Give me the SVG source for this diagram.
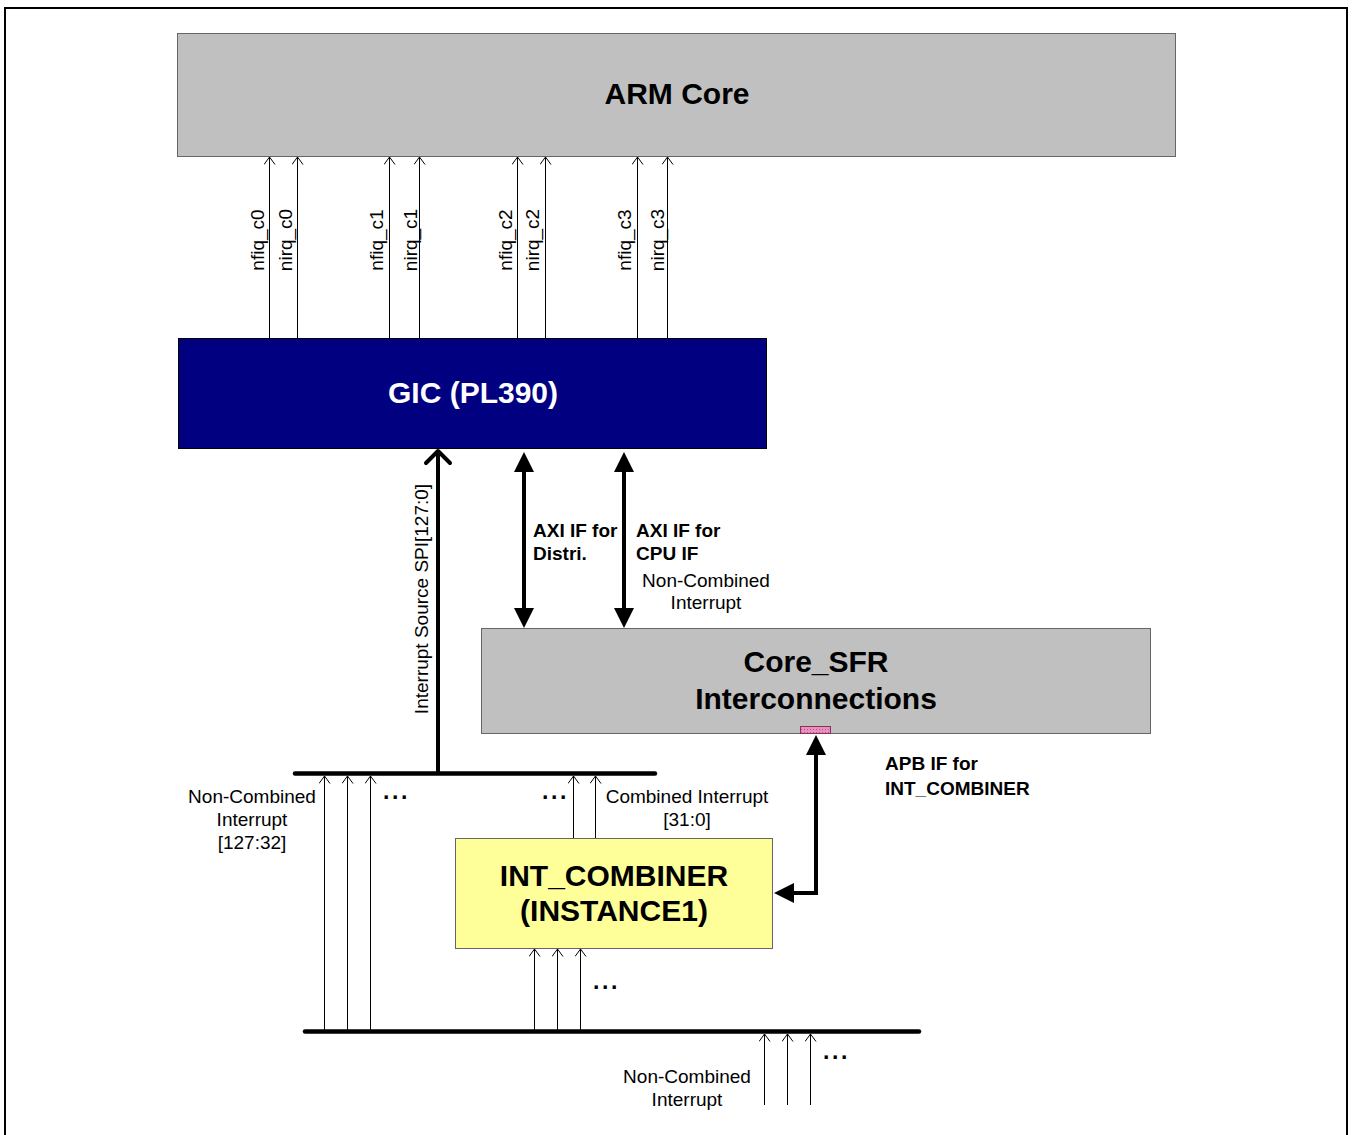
<svg xmlns="http://www.w3.org/2000/svg" width="1354" height="1135" viewBox="0 0 1354 1135">
<style>
  text { font-family: "Liberation Sans", Arial, sans-serif; fill: #000; }
  .lbl { font-size: 19px; }
  .bl { font-size: 19px; font-weight: bold; }
  .dots { font-size: 23px; font-weight: bold; letter-spacing: 2.6px; }
  .big { font-size: 30px; font-weight: bold; }
  .thin { stroke: #000; stroke-width: 1; fill: none; marker-end: url(#openThin); }
  .bus { stroke: #000; stroke-width: 4.5; stroke-linecap: round; fill: none; }
  .thick { stroke: #000; stroke-width: 4; fill: none; }
  .dbl { marker-start: url(#solid); marker-end: url(#solid); }
</style>
<defs>
  <marker id="openThin" markerUnits="userSpaceOnUse" viewBox="0 0 8 12" markerWidth="8" markerHeight="12" refX="7.5" refY="6" orient="auto">
    <path d="M0,0.5 L7.5,6 L0,11.5" fill="none" stroke="#000" stroke-width="1"/>
  </marker>
  <marker id="solid" markerUnits="userSpaceOnUse" viewBox="0 0 20 20" markerWidth="20" markerHeight="20" refX="10" refY="10" orient="auto-start-reverse">
    <path d="M0,0 L20,10 L0,20 Z" fill="#000"/>
  </marker>
  <marker id="chevron" markerUnits="userSpaceOnUse" viewBox="-3 -3 20 30" markerWidth="20" markerHeight="30" refX="12" refY="12" orient="auto">
    <path d="M0,0 L12,12 L0,24" fill="none" stroke="#000" stroke-width="4" stroke-linecap="round" stroke-linejoin="round"/>
  </marker>
  <pattern id="hatch" patternUnits="userSpaceOnUse" width="3" height="3">
    <rect width="3" height="3" fill="#e890c0"/>
    <rect width="1" height="1" fill="#c05080"/>
  </pattern>
</defs>

<rect id="frame" x="5" y="8" width="1342" height="1150" fill="none" stroke="#000" stroke-width="2"/>

<g id="arm-core">
  <rect x="177.5" y="33.5" width="998" height="123" fill="#c0c0c0" stroke="#666" stroke-width="1"/>
  <text class="big" x="677" y="104" text-anchor="middle">ARM Core</text>
</g>

<g id="gic">
  <rect x="178.5" y="338.5" width="588" height="110" fill="#000080" stroke="#000" stroke-width="1"/>
  <text class="big" x="473" y="403" text-anchor="middle" style="fill:#fff">GIC (PL390)</text>
</g>

<g id="core-sfr">
  <rect x="481.5" y="628.5" width="669" height="105" fill="#c0c0c0" stroke="#666" stroke-width="1"/>
  <text class="big" x="816" y="672" text-anchor="middle">Core_SFR</text>
  <text class="big" x="816" y="709" text-anchor="middle">Interconnections</text>
  <rect x="800.5" y="726.5" width="30" height="7" fill="url(#hatch)" stroke="#883355" stroke-width="1"/>
</g>

<g id="int-combiner">
  <rect x="455.5" y="838.5" width="317" height="110" fill="#ffff99" stroke="#666" stroke-width="1"/>
  <text class="big" x="614" y="886" text-anchor="middle">INT_COMBINER</text>
  <text class="big" x="614" y="921" text-anchor="middle">(INSTANCE1)</text>
</g>

<g id="connectors">
  <!-- GIC to ARM core -->
  <line class="thin" x1="269.5" y1="338" x2="269.5" y2="157"/>
  <line class="thin" x1="297.5" y1="338" x2="297.5" y2="157"/>
  <line class="thin" x1="389.5" y1="338" x2="389.5" y2="157"/>
  <line class="thin" x1="419.5" y1="338" x2="419.5" y2="157"/>
  <line class="thin" x1="517.5" y1="338" x2="517.5" y2="157"/>
  <line class="thin" x1="545.5" y1="338" x2="545.5" y2="157"/>
  <line class="thin" x1="637.5" y1="338" x2="637.5" y2="157"/>
  <line class="thin" x1="667.5" y1="338" x2="667.5" y2="157"/>

  <!-- buses -->
  <line class="bus" x1="295" y1="773.5" x2="655" y2="773.5"/>
  <line class="bus" x1="305" y1="1031.5" x2="919" y2="1031.5"/>

  <!-- SPI to GIC -->
  <line class="thick" x1="438" y1="772" x2="438" y2="451" marker-end="url(#chevron)"/>

  <!-- AXI -->
  <line class="thick dbl" x1="524" y1="462" x2="524" y2="618"/>
  <line class="thick dbl" x1="624" y1="462" x2="624" y2="618"/>

  <!-- APB -->
  <path class="thick dbl" d="M816,745 L816,893 L784,893"/>

  <!-- inputs to top bus -->
  <line class="thin" x1="324.5" y1="1030" x2="324.5" y2="776"/>
  <line class="thin" x1="347.5" y1="1030" x2="347.5" y2="776"/>
  <line class="thin" x1="370.5" y1="1030" x2="370.5" y2="776"/>
  <line class="thin" x1="573.5" y1="838" x2="573.5" y2="776"/>
  <line class="thin" x1="595.5" y1="838" x2="595.5" y2="776"/>

  <!-- inputs to combiner -->
  <line class="thin" x1="534.5" y1="1030" x2="534.5" y2="949"/>
  <line class="thin" x1="557.5" y1="1030" x2="557.5" y2="949"/>
  <line class="thin" x1="580.5" y1="1030" x2="580.5" y2="949"/>

  <!-- inputs to bottom bus -->
  <line class="thin" x1="764.5" y1="1105" x2="764.5" y2="1034"/>
  <line class="thin" x1="787.5" y1="1105" x2="787.5" y2="1034"/>
  <line class="thin" x1="810.5" y1="1105" x2="810.5" y2="1034"/>
</g>

<g id="labels">
  <text class="lbl" transform="translate(264,240) rotate(-90)" text-anchor="middle">nfiq_c0</text>
  <text class="lbl" transform="translate(292,240) rotate(-90)" text-anchor="middle">nirq_c0</text>
  <text class="lbl" transform="translate(383,240) rotate(-90)" text-anchor="middle">nfiq_c1</text>
  <text class="lbl" transform="translate(417,240) rotate(-90)" text-anchor="middle">nirq_c1</text>
  <text class="lbl" transform="translate(512,240) rotate(-90)" text-anchor="middle">nfiq_c2</text>
  <text class="lbl" transform="translate(539,240) rotate(-90)" text-anchor="middle">nirq_c2</text>
  <text class="lbl" transform="translate(631,240) rotate(-90)" text-anchor="middle">nfiq_c3</text>
  <text class="lbl" transform="translate(664,240) rotate(-90)" text-anchor="middle">nirq_c3</text>

  <text class="lbl" transform="translate(428,599) rotate(-90)" text-anchor="middle">Interrupt Source SPI[127:0]</text>

  <text class="bl" x="533" y="537">AXI IF for</text>
  <text class="bl" x="533" y="560">Distri.</text>
  <text class="bl" x="636" y="537">AXI IF for</text>
  <text class="bl" x="636" y="560">CPU IF</text>
  <text class="lbl" x="706" y="587" text-anchor="middle">Non-Combined</text>
  <text class="lbl" x="706" y="609" text-anchor="middle">Interrupt</text>

  <text class="bl" x="885" y="770">APB IF for</text>
  <text class="bl" x="885" y="795">INT_COMBINER</text>

  <text class="lbl" x="252" y="803" text-anchor="middle">Non-Combined</text>
  <text class="lbl" x="252" y="826" text-anchor="middle">Interrupt</text>
  <text class="lbl" x="252" y="849" text-anchor="middle">[127:32]</text>

  <text class="dots" x="383" y="799">...</text>
  <text class="dots" x="542" y="799">...</text>

  <text class="lbl" x="687" y="803" text-anchor="middle">Combined Interrupt</text>
  <text class="lbl" x="687" y="826" text-anchor="middle">[31:0]</text>

  <text class="dots" x="593" y="989">...</text>
  <text class="dots" x="823" y="1059">...</text>

  <text class="lbl" x="687" y="1083" text-anchor="middle">Non-Combined</text>
  <text class="lbl" x="687" y="1106" text-anchor="middle">Interrupt</text>
</g>
</svg>
